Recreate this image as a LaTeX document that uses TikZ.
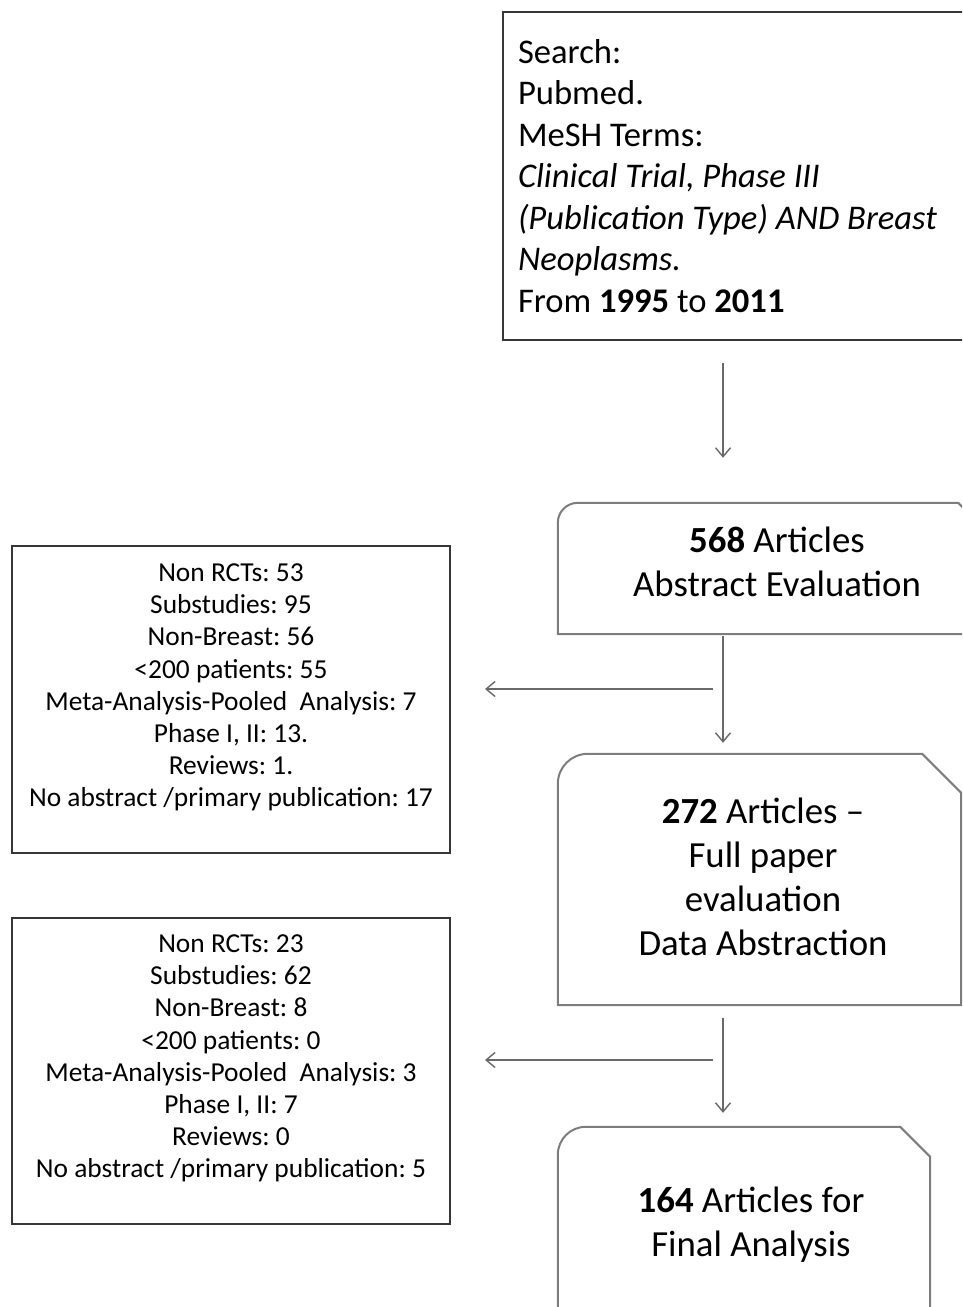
\documentclass[tikz,border=0pt]{standalone}
\usepackage{fontspec}
\setmainfont{Carlito}
\usepackage{tikz}
\usetikzlibrary{positioning,arrows.meta,calc}
\definecolor{edgedark}{RGB}{55,55,55}
\definecolor{edgegray}{RGB}{125,125,125}
\definecolor{arrowgray}{RGB}{105,105,105}
\frenchspacing

% outline of a stage box: rounded top left, snipped top right
\newcommand{\stageoutline}[3]{%
  \draw[edgegray,line width=2pt] (#1.south west) -- ([yshift=-#2]#1.north west)
    arc[start angle=180,end angle=90,radius=#2] -- ([xshift=-#3]#1.north east)
    -- ([yshift=-#3]#1.north east) -- (#1.south east) -- cycle;}

\begin{document}
\begin{tikzpicture}[x=1pt,y=-1pt,
  exclbox/.style={draw=edgedark,line width=2pt,minimum width=438pt,inner sep=0pt},
  excltext/.style={align=center,inner sep=0pt,font=\fontsize{27.4}{32.2}\selectfont},
  stage/.style={inner sep=0pt},
  stagetext/.style={align=center,inner sep=0pt,font=\fontsize{36.8}{44}\selectfont},
  flow/.style={draw=arrowgray,line width=1.4pt,-{Straight Barb[length=9pt,width=15pt]}}]
\useasboundingbox (0,0) rectangle (962,1307);
\clip (0,0) rectangle (962,1307);
% Search box
\node[draw=edgedark,line width=2.4pt,minimum width=480pt,minimum height=328pt,
  inner xsep=15pt,inner ysep=0pt,text width=450pt,align=flush left,
  font=\fontsize{34.6}{41.5}\selectfont] (search) at (743,176)
  {Search:\\ Pubmed.\\ MeSH Terms:\\ \textit{Clinical Trial, Phase III}\\
   \textit{(Publication Type) AND Breast}\\ \textit{Neoplasms.}\\
   From \textbf{1995} to \textbf{2011}};
% Stage boxes
\node[stage,minimum width=442pt,minimum height=131pt] (abstr) at (779,568.5) {};
\node[stage,minimum width=403pt,minimum height=251pt] (full) at (759.5,879.5) {};
\node[stage,minimum width=372pt,minimum height=213pt] (final) at (744,1233.5) {};
\stageoutline{abstr}{20pt}{42pt}
\stageoutline{full}{30pt}{39pt}
\stageoutline{final}{28pt}{30pt}
\node[stagetext] (abstrtxt) at (777,561.5) {\textbf{568} Articles\\ Abstract Evaluation};
\node[stagetext] (fulltxt) at (763,877) {\textbf{272} Articles –\\ Full paper\\ evaluation\\ Data Abstraction};
\node[stagetext] (finaltxt) at (751,1224.5) {\textbf{164} Articles for\\ Final Analysis};
% Exclusion boxes
\node[exclbox,minimum height=307pt] (excl1) at (231,699.5) {};
\node[excltext] (excl1txt) at (231,687.5) {Non RCTs: 53\\ Substudies: 95\\ Non-Breast: 56\\
  <200 patients: 55\\ Meta-Analysis-Pooled~ Analysis: 7\\ Phase I, II: 13.\\ Reviews: 1.\\
  No abstract /primary publication: 17};
\node[exclbox,minimum height=306pt] (excl2) at (231,1071) {};
\node[excltext] (excl2txt) at (231,1058.5) {Non RCTs: 23\\ Substudies: 62\\ Non-Breast: 8\\
  <200 patients: 0\\ Meta-Analysis-Pooled~ Analysis: 3\\ Phase I, II: 7\\ Reviews: 0\\
  No abstract /primary publication: 5};
% Arrows
\coordinate (spine) at (723,0);
\coordinate (cut1) at (713,689);
\coordinate (cut2) at (713,1060);
\draw[flow,shorten <=22pt,shorten >=45pt] (search.south -| spine) -- (abstr.north -| spine);
\draw[flow,shorten <=2pt,shorten >=11pt] (abstr.south -| spine) -- (full.north -| spine);
\draw[flow,shorten <=13pt,shorten >=14pt] (full.south -| spine) -- (final.north -| spine);
\draw[flow,shorten >=34pt] (cut1) -- (excl1.east |- cut1);
\draw[flow,shorten >=34pt] (cut2) -- (excl2.east |- cut2);
\end{tikzpicture}
\end{document}
